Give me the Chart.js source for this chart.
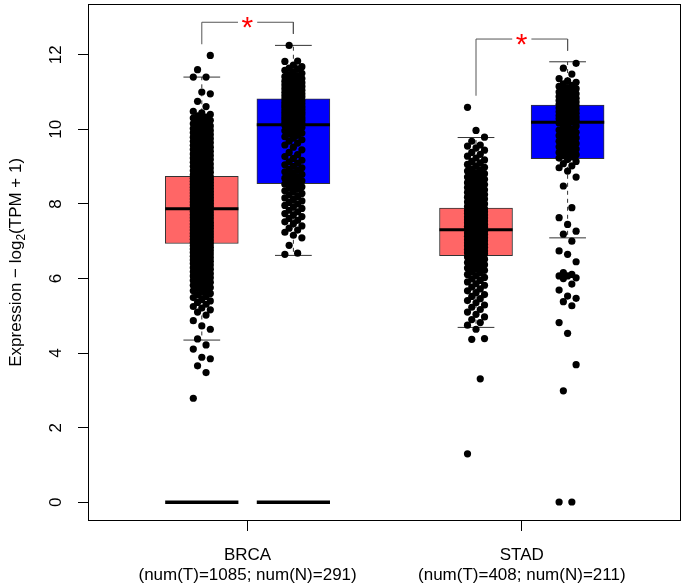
<!DOCTYPE html>
<html><head><meta charset="utf-8">
<script src="https://cdn.jsdelivr.net/npm/chart.js@4.4.1/dist/chart.umd.min.js"></script>
<style>html,body{margin:0;padding:0;background:#fff}#wrap{width:685px;height:585px}</style>
</head><body><div id="wrap"><canvas id="c" width="685" height="585"></canvas></div>
<script>
// ---------------- data ----------------
const categories = ['BRCA', 'STAD'];
const sampleLabels = ['(num(T)=1085; num(N)=291)', '(num(T)=408; num(N)=211)'];
const yTicks = [0, 2, 4, 6, 8, 10, 12];
const yTitleMain = 'Expression \u2212 log';
const yTitleSub = '2';
const yTitleEnd = '(TPM + 1)';

// [lower whisker, Q1, median, Q3, upper whisker]
const brcaTumorBox  = [4.35, 6.94, 7.87, 8.74, 11.40];
const brcaNormalBox = [6.62, 8.54, 10.12, 10.82, 12.25];
const stadTumorBox  = [4.69, 6.61, 7.31, 7.89, 9.78];
const stadNormalBox = [7.09, 9.21, 10.19, 10.65, 11.81];

// groups drawn as a flat bar at zero (BRCA T, BRCA N)
const zeroBarCategories = ['BRCA'];
const zeroBarValue = 0;

// significance brackets per category
const sigTop = [12.87, 12.42];
const sigLegTumor = [12.28, 10.90];
const sigLegNormal = [12.56, 12.11];
const sigMark = ['*', '*'];

const brcaTumorPts = [2.79,3.48,3.66,3.85,3.89,4.11,4.22,4.38,4.64,4.73,4.87,5.02,
5.10,5.16,5.21,5.25,5.31,5.36,5.40,5.44,5.49,5.52,5.56,5.60,5.63,5.67,5.70,5.73,5.76,5.79,5.82,5.85,
5.88,5.90,5.93,5.95,5.97,6.00,6.02,6.04,6.07,6.09,6.11,6.13,6.16,6.18,6.20,6.22,6.25,6.27,6.29,6.31,6.33,6.36,6.38,6.40,6.42,6.44,6.46,6.48,6.50,6.52,6.54,6.56,6.58,6.60,6.62,6.64,6.66,6.68,6.70,6.72,6.73,6.75,6.77,6.79,6.81,6.82,6.84,6.86,6.88,6.89,6.91,6.93,
6.95,6.96,6.98,7.00,7.01,7.03,7.05,7.06,7.08,7.10,7.11,7.13,7.15,7.16,7.18,7.20,7.21,7.23,7.25,7.26,7.28,7.30,7.31,7.33,7.35,7.36,7.38,7.40,7.41,7.43,7.45,7.46,7.48,7.50,7.51,7.53,7.55,7.56,7.58,7.60,7.61,7.63,7.65,7.66,7.68,7.70,7.71,7.73,7.75,7.76,7.78,7.80,7.81,7.83,7.85,
7.88,7.89,7.91,7.93,7.94,7.96,7.97,7.99,8.01,8.02,8.04,8.05,8.07,8.09,8.10,8.12,8.13,8.15,8.17,8.18,8.20,8.21,8.23,8.25,8.26,8.28,8.29,8.31,8.33,8.34,8.36,8.37,8.39,8.41,8.42,8.44,8.45,8.47,8.49,8.50,8.52,8.53,8.55,8.57,8.58,8.60,8.61,8.63,8.65,8.66,8.68,8.69,8.71,8.72,8.73,
8.76,8.78,8.80,8.83,8.85,8.87,8.89,8.92,8.94,8.96,8.98,9.01,9.03,9.05,9.07,9.10,9.12,9.14,9.16,9.19,9.21,9.23,9.25,9.28,9.30,9.32,9.34,9.37,9.39,9.41,9.43,9.46,9.48,9.50,9.52,9.55,9.57,9.59,9.61,9.64,9.66,9.68,9.70,9.73,9.75,9.77,9.79,9.82,9.84,9.86,9.88,9.91,9.93,9.95,9.97,10.00,10.02,10.04,10.07,10.09,10.12,10.15,10.18,10.21,10.24,10.27,10.30,10.33,10.36,10.40,10.44,
10.48,10.61,10.75,10.95,11.00,11.40,11.40,11.60,11.98];

const brcaNormalPts = [6.65,6.68,6.89,7.09,7.16,7.24,7.30,7.35,7.41,7.47,7.52,7.56,7.61,7.66,7.70,7.74,7.79,7.83,7.88,7.92,7.96,8.00,8.04,8.08,8.12,8.16,8.20,8.24,8.28,8.32,8.35,8.39,8.42,8.46,8.49,8.53,
8.56,8.59,8.62,8.66,8.69,8.72,8.76,8.79,8.83,8.86,8.90,8.93,8.97,9.01,9.05,9.09,9.13,9.17,9.22,9.27,9.32,9.38,9.45,9.52,9.58,9.63,9.68,9.72,9.76,9.80,9.84,9.87,9.90,9.93,9.96,9.99,10.02,10.05,10.08,10.11,
10.13,10.15,10.16,10.18,10.19,10.21,10.22,10.24,10.25,10.27,10.28,10.30,10.31,10.33,10.34,10.36,10.37,10.39,10.40,10.42,10.43,10.45,10.46,10.48,10.49,10.51,10.52,10.54,10.55,10.57,10.58,10.60,10.61,10.63,10.64,10.66,10.67,10.69,10.70,10.72,10.73,10.75,10.77,10.79,10.81,
10.83,10.85,10.87,10.88,10.90,10.92,10.94,10.95,10.97,10.99,11.01,11.03,11.05,11.07,11.09,11.11,11.13,11.15,11.17,11.19,11.21,11.23,11.25,11.27,11.29,11.31,11.33,11.36,11.38,11.41,11.44,11.47,11.50,11.54,11.58,11.62,11.64,11.68,11.72,11.82,11.83,12.25];

const stadTumorPts = [1.30,3.31,4.37,4.39,4.64,
4.75,4.82,4.90,4.97,5.04,5.10,5.17,5.23,5.29,5.35,5.41,5.46,5.52,5.57,5.62,5.67,5.72,5.77,5.82,5.86,5.91,5.95,5.99,6.03,6.07,6.11,6.15,6.18,6.22,6.25,6.28,6.31,6.34,6.37,6.40,6.43,6.46,6.49,6.52,6.55,6.58,
6.62,6.64,6.66,6.67,6.69,6.71,6.73,6.74,6.76,6.78,6.80,6.81,6.83,6.85,6.87,6.88,6.90,6.92,6.94,6.95,6.97,6.99,7.01,7.02,7.04,7.06,7.08,7.09,7.11,7.13,7.15,7.16,7.18,7.20,7.22,7.23,7.25,7.27,7.29,
7.32,7.34,7.35,7.37,7.39,7.40,7.42,7.44,7.45,7.47,7.49,7.50,7.52,7.54,7.55,7.57,7.59,7.60,7.62,7.64,7.65,7.67,7.69,7.70,7.72,7.74,7.75,7.77,7.79,7.80,7.82,7.84,7.85,7.87,
7.90,7.93,7.95,7.98,8.00,8.03,8.05,8.08,8.10,8.13,8.15,8.18,8.20,8.23,8.25,8.28,8.31,8.33,8.36,8.38,8.41,8.44,8.46,8.49,8.52,8.54,8.57,8.60,8.63,8.66,8.69,8.72,8.75,8.78,8.81,8.84,8.88,8.91,8.94,8.98,9.02,9.06,9.10,9.14,9.18,9.23,9.28,9.33,9.38,9.44,9.50,9.55,9.58,9.68,9.79,9.97,10.59];

const stadNormalPts = [0.01,0.01,2.99,3.69,4.53,4.82,5.27,5.38,5.47,5.53,5.69,5.85,6.00,6.02,6.07,6.07,6.11,6.16,6.45,6.65,6.74,7.00,
7.19,7.27,7.45,7.63,7.90,8.48,8.72,8.88,8.97,9.02,9.08,9.14,9.19,
9.23,9.26,9.29,9.32,9.35,9.38,9.41,9.44,9.47,9.50,9.53,9.56,9.59,9.62,9.65,9.68,9.71,9.74,9.77,9.80,9.83,9.86,9.89,9.92,9.95,9.98,10.01,10.05,10.09,10.13,10.17,
10.20,10.22,10.24,10.26,10.28,10.30,10.31,10.33,10.35,10.37,10.39,10.41,10.43,10.45,10.47,10.49,10.51,10.53,10.55,10.57,10.59,10.61,10.63,10.64,
10.67,10.69,10.71,10.73,10.75,10.77,10.79,10.81,10.83,10.85,10.88,10.90,10.92,10.95,10.97,11.00,11.03,11.06,11.09,11.12,11.15,11.18,11.22,11.26,11.30,11.36,11.48,11.64,11.77];

// ---------------- layout / style ----------------
const GROUP_OFFSET = { T: -0.167, N: 0.167 };
const BOX_HALF = 0.1335;
const CAP_HALF = 0.067;
const JITTER = 0.031;
const jitterPattern = [-1, 0.5, -0.5, 1, 0];
const TUMOR_COLOR = '#FF6666';
const NORMAL_COLOR = '#0000FF';
const FONT = '"Liberation Sans", Arial, Helvetica, sans-serif';

const groupsData = [
  { cat: 0, g: 'T', box: brcaTumorBox, pts: brcaTumorPts, color: TUMOR_COLOR },
  { cat: 0, g: 'N', box: brcaNormalBox, pts: brcaNormalPts, color: NORMAL_COLOR },
  { cat: 1, g: 'T', box: stadTumorBox, pts: stadTumorPts, color: TUMOR_COLOR },
  { cat: 1, g: 'N', box: stadNormalBox, pts: stadNormalPts, color: NORMAL_COLOR }
];
const catX = i => i + 1;

function seg(x1, y1, x2, y2, color, width, dash, order) {
  return { type: 'line', data: [{ x: x1, y: y1 }, { x: x2, y: y2 }], borderColor: color,
    borderWidth: width, borderDash: dash || [], pointRadius: 0, fill: false, tension: 0,
    order: order, borderCapStyle: 'butt' };
}

const datasets = [];
// boxes
datasets.push({
  type: 'bar',
  data: groupsData.map(d => ({ x: catX(d.cat) + GROUP_OFFSET[d.g], y: [d.box[1], d.box[3]] })),
  backgroundColor: groupsData.map(d => d.color),
  borderColor: '#333', borderWidth: 1, borderSkipped: false, barThickness: 73, order: 9
});
groupsData.forEach(d => {
  const cx = catX(d.cat) + GROUP_OFFSET[d.g];
  const [lo, q1, med, q3, hi] = d.box;
  datasets.push(seg(cx, q3, cx, hi, '#333', 1, [4, 4], 8));
  datasets.push(seg(cx, q1, cx, lo, '#333', 1, [4, 4], 8));
  datasets.push(seg(cx - CAP_HALF, hi, cx + CAP_HALF, hi, '#333', 1, null, 7));
  datasets.push(seg(cx - CAP_HALF, lo, cx + CAP_HALF, lo, '#333', 1, null, 7));
  datasets.push(seg(cx - BOX_HALF, med, cx + BOX_HALF, med, '#000', 3, null, 6));
  if (zeroBarCategories.includes(categories[d.cat])) {
    datasets.push(seg(cx - BOX_HALF, zeroBarValue, cx + BOX_HALF, zeroBarValue, '#000', 3.5, null, 6));
  }
});
// points
groupsData.forEach(d => {
  const cx = catX(d.cat) + GROUP_OFFSET[d.g];
  datasets.push({
    type: 'scatter',
    data: d.pts.map((v, i) => ({ x: cx + jitterPattern[i % jitterPattern.length] * JITTER, y: v })),
    pointRadius: 3.6, pointBackgroundColor: '#000', pointBorderWidth: 0, pointHoverRadius: 3.6,
    showLine: false, order: 1
  });
});
// significance brackets
const GAP = 0.035;
categories.forEach((c, i) => {
  const xl = catX(i) + GROUP_OFFSET.T, xr = catX(i) + GROUP_OFFSET.N, xc = catX(i);
  datasets.push({ type: 'line', data: [{ x: xl, y: sigLegTumor[i] }, { x: xl, y: sigTop[i] }, { x: xc - GAP, y: sigTop[i] }],
    borderColor: '#555', borderWidth: 1, pointRadius: 0, fill: false, tension: 0, order: 2, clip: false });
  datasets.push({ type: 'line', data: [{ x: xc + GAP, y: sigTop[i] }, { x: xr, y: sigTop[i] }, { x: xr, y: sigLegNormal[i] }],
    borderColor: '#555', borderWidth: 1, pointRadius: 0, fill: false, tension: 0, order: 2, clip: false });
});

const textPlugin = {
  id: 'rtext',
  afterDraw(chart) {
    const { ctx, chartArea: a, scales: { x, y } } = chart;
    ctx.save();
    ctx.strokeStyle = '#000'; ctx.lineWidth = 1;
    ctx.strokeRect(Math.round(a.left) + 0.5, Math.round(a.top) + 0.5,
      Math.round(a.right - a.left) - 1, Math.round(a.bottom - a.top) - 1);
    ctx.fillStyle = '#000';
    ctx.font = '17px ' + FONT;
    // y tick labels (rotated like R)
    yTicks.forEach(v => {
      const py = y.getPixelForValue(v);
      ctx.save(); ctx.translate(55, py); ctx.rotate(-Math.PI / 2);
      ctx.textAlign = 'center'; ctx.textBaseline = 'alphabetic';
      ctx.fillText(String(v), 0, 6);
      ctx.restore();
    });
    // x labels
    ctx.textAlign = 'center'; ctx.textBaseline = 'alphabetic';
    categories.forEach((c, i) => {
      const px = x.getPixelForValue(catX(i));
      ctx.fillText(c, px, 560);
      ctx.fillText(sampleLabels[i], px, 580);
    });
    // y title
    ctx.save();
    const cy = (a.top + a.bottom) / 2;
    ctx.translate(21, cy); ctx.rotate(-Math.PI / 2);
    ctx.textAlign = 'left'; ctx.textBaseline = 'alphabetic';
    const mainFont = '17px ' + FONT, subFont = '12px ' + FONT;
    ctx.font = mainFont; const w1 = ctx.measureText(yTitleMain).width; const w3 = ctx.measureText(yTitleEnd).width;
    ctx.font = subFont; const w2 = ctx.measureText(yTitleSub).width;
    let sx = -(w1 + w2 + w3) / 2;
    ctx.font = mainFont; ctx.fillText(yTitleMain, sx, 0); sx += w1;
    ctx.font = subFont; ctx.fillText(yTitleSub, sx, 4); sx += w2;
    ctx.font = mainFont; ctx.fillText(yTitleEnd, sx, 0);
    ctx.restore();
    // significance marks
    ctx.fillStyle = '#FF0000';
    ctx.font = '30px ' + FONT;
    ctx.textAlign = 'left';
    categories.forEach((c, i) => {
      const m = ctx.measureText(sigMark[i]);
      const px = x.getPixelForValue(catX(i));
      const py = y.getPixelForValue(sigTop[i]);
      const gw = m.actualBoundingBoxLeft + m.actualBoundingBoxRight;
      const bx = px - gw / 2 + m.actualBoundingBoxLeft;
      const by = py + (m.actualBoundingBoxAscent - m.actualBoundingBoxDescent) / 2;
      ctx.fillText(sigMark[i], bx, by);
    });
    ctx.restore();
  }
};

new Chart(document.getElementById('c'), {
  type: 'scatter',
  data: { datasets },
  options: {
    responsive: false, animation: false, devicePixelRatio: 1, events: [],
    layout: { padding: { left: 0, top: 2, right: 2, bottom: 0 } },
    plugins: { legend: { display: false }, tooltip: { enabled: false } },
    scales: {
      x: {
        type: 'linear', min: 0.418, max: 2.582, offset: false,
        afterBuildTicks: s => { s.ticks = categories.map((c, i) => ({ value: catX(i) })); },
        ticks: { display: false },
        grid: { offset: false, drawOnChartArea: false, drawTicks: true, tickLength: 10, color: '#000', lineWidth: 1 },
        border: { display: false },
        afterFit: s => { s.height = 64; }
      },
      y: {
        type: 'linear', min: -0.5, max: 13.37,
        afterBuildTicks: s => { s.ticks = yTicks.map(v => ({ value: v })); },
        ticks: { display: false },
        grid: { offset: false, drawOnChartArea: false, drawTicks: true, tickLength: 10, color: '#000', lineWidth: 1 },
        border: { display: false },
        afterFit: s => { s.width = 88; }
      }
    }
  },
  plugins: [textPlugin]
});
</script>
</body></html>
